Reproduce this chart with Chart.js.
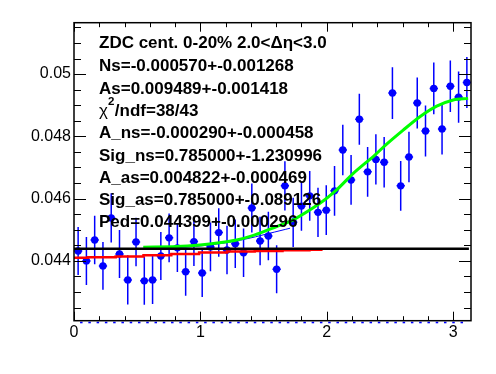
<!DOCTYPE html>
<html><head><meta charset="utf-8">
<script src="https://cdn.jsdelivr.net/npm/chart.js@4/dist/chart.umd.min.js"></script>
<style>html,body{margin:0;padding:0;background:#fff}#wrap{width:496px;height:374px;position:relative}</style>
</head><body><div id="wrap"><canvas id="c" width="496" height="374"></canvas></div>
<script>
// ---- data ----
const binCenters = [0.0327,0.0982,0.1636,0.2291,0.2945,0.3600,0.4254,0.4909,0.5563,0.6218,0.6872,0.7527,
  0.8181,0.8836,0.9490,1.0145,1.0799,1.1454,1.2108,1.2763,1.3417,1.4072,1.4726,1.5381,
  1.6035,1.6690,1.7344,1.7999,1.8653,1.9308,1.9962,2.0617,2.1271,2.1926,2.2580,2.3235,
  2.3889,2.4544,2.5198,2.5853,2.6507,2.7162,2.7816,2.8471,2.9125,2.9780,3.0434,3.1089];
const corrValues = [0.04432,0.04400,0.04467,0.04384,0.04538,0.04422,0.04339,0.04461,0.04336,0.04339,0.04416,0.04474,
  0.04442,0.04365,0.04462,0.04361,0.04445,0.04491,0.04435,0.04455,0.04426,0.04570,0.04464,0.04480,
  0.04373,0.04641,0.04524,0.04576,0.04609,0.04556,0.04563,0.04625,0.04756,0.04660,0.04855,0.04686,
  0.04726,0.04717,0.04939,0.04641,0.04734,0.04907,0.04817,0.04954,0.04824,0.04961,0.04926,0.04973];
const corrErrors = [0.00077,0.00077,0.00078,0.00077,0.00079,0.00077,0.00079,0.00078,0.00077,0.00077,0.00077,0.00078,
  0.00078,0.00077,0.00078,0.00077,0.00078,0.00078,0.00078,0.00078,0.00078,0.00079,0.00078,0.00078,
  0.00077,0.00079,0.00079,0.00079,0.00080,0.00079,0.00080,0.00080,0.00081,0.00080,0.00082,0.00080,
  0.00081,0.00081,0.00083,0.00080,0.00081,0.00082,0.00082,0.00083,0.00082,0.00083,0.00082,0.00082];
const binHalfWidth = 0.0327;

const pedX = [0, 3.125];
const pedY = [0.04439, 0.04439];

const nearX = [0, 0.22, 0.44, 0.66, 0.88, 1.10, 1.32, 1.54, 1.76, 1.967];
const nearY = [0.04410,0.04412,0.04414,0.04418,0.04422,0.04427,0.04430,0.04432,0.04434,0.04436];

const awayX = [0.548,0.8125,0.997,1.150,1.287,1.420,1.551,1.590,1.735,1.946,2.078,2.210,2.381,2.474,2.605,2.737,2.870,3.001,3.119];
const awayY = [0.04444,0.04446,0.04451,0.04458,0.04467,0.04482,0.04502,0.04508,0.04532,0.04585,0.04628,0.04681,0.04740,0.04775,0.04820,0.04863,0.04897,0.04917,0.04922];

const fitX = [0.84,1.00,1.23,1.40,1.55,1.71];
const fitY = [0.04443,0.04448,0.04460,0.04474,0.04489,0.04505];

const xMajorTicks = [0,1,2,3];
const xMinorTicks = [0.2,0.4,0.6,0.8,1.2,1.4,1.6,1.8,2.2,2.4,2.6,2.8,3.0];
const yMajorTicks = [0.044,0.046,0.048,0.050];
const yMinorTicks = [0.0425,0.043,0.0435,0.0445,0.045,0.0455,0.0465,0.047,0.0475,0.0485,0.049,0.0495,0.0505,0.051,0.0515];

const statLines = [
  "ZDC cent. 0-20% 2.0<\u0394\u03b7<3.0",
  "Ns=-0.000570+-0.001268",
  "As=0.009489+-0.001418",
  "CHI",
  "A_ns=-0.000290+-0.000458",
  "Sig_ns=0.785000+-1.230996",
  "A_as=0.004822+-0.000469",
  "Sig_as=0.785000+-0.089126",
  "Ped=0.044399+-0.000296"
];
const chiText = ["\u03c7", "2", "/ndf=38/43"];

// ---- drawing ----
const FONT = "'Liberation Sans', Arial, Helvetica, sans-serif";
const zip = (xs, ys) => xs.map((v, i) => ({x: v, y: ys[i]}));

const rootPlugin = {
  id: 'rootStyle',
  beforeDatasetsDraw(chart) {
    const {ctx, chartArea: a, scales: {x, y}} = chart;
    ctx.save();
    ctx.beginPath(); ctx.rect(a.left, a.top, a.right - a.left, a.bottom - a.top); ctx.clip();
    ctx.strokeStyle = '#0000ff'; ctx.lineWidth = 1.5;
    binCenters.forEach((c, i) => {
      const v = corrValues[i], e = corrErrors[i];
      const px = x.getPixelForValue(c), py = y.getPixelForValue(v);
      ctx.beginPath();
      ctx.moveTo(px, y.getPixelForValue(v - e)); ctx.lineTo(px, y.getPixelForValue(v + e));
      ctx.moveTo(x.getPixelForValue(c - binHalfWidth), py); ctx.lineTo(x.getPixelForValue(c + binHalfWidth), py);
      ctx.stroke();
    });
    ctx.restore();
  },
  afterDatasetsDraw(chart) {
    const {ctx, chartArea: a, scales: {x, y}} = chart;
    ctx.save();
    // blue dashes just below the frame
    ctx.fillStyle = '#0000ff';
    binCenters.forEach(c => {
      const px = x.getPixelForValue(c + binHalfWidth);
      if (px < a.right - 2) ctx.fillRect(px - 2.2, a.bottom + 1, 2.5, 1.6);
    });
    // frame
    ctx.strokeStyle = '#000'; ctx.lineWidth = 1.5;
    ctx.strokeRect(a.left, a.top, a.right - a.left, a.bottom - a.top);
    // ticks
    ctx.lineWidth = 1;
    ctx.beginPath();
    const xt = (vals, len) => vals.forEach(v => {
      const px = Math.round(x.getPixelForValue(v)) + 0.5;
      ctx.moveTo(px, a.bottom); ctx.lineTo(px, a.bottom - len);
      ctx.moveTo(px, a.top); ctx.lineTo(px, a.top + len);
    });
    const yt = (vals, len) => vals.forEach(v => {
      const py = Math.round(y.getPixelForValue(v)) + 0.5;
      ctx.moveTo(a.left, py); ctx.lineTo(a.left + len, py);
      ctx.moveTo(a.right, py); ctx.lineTo(a.right - len, py);
    });
    xt(xMajorTicks, 9); xt(xMinorTicks, 4.5);
    yt(yMajorTicks, 12); yt(yMinorTicks, 7);
    ctx.stroke();
    // stats text
    ctx.fillStyle = '#000'; ctx.textBaseline = 'alphabetic'; ctx.textAlign = 'left';
    const baselines = [47.7, 71.3, 93.5, 115.5, 138.3, 160.5, 182.8, 205, 227.3];
    const tx = 99;
    statLines.forEach((s, i) => {
      const by = baselines[i];
      if (s === 'CHI') {
        ctx.font = `17px ${FONT}`;
        ctx.fillText(chiText[0], tx, by);
        let w = ctx.measureText(chiText[0]).width;
        ctx.font = `bold 11.5px ${FONT}`;
        ctx.fillText(chiText[1], tx + w, by - 10.5);
        w += ctx.measureText(chiText[1]).width + 0.5;
        ctx.font = `bold 17px ${FONT}`;
        ctx.fillText(chiText[2], tx + w, by);
      } else {
        ctx.font = `bold 17px ${FONT}`;
        ctx.fillText(s, tx, by);
      }
    });
    ctx.restore();
  }
};

new Chart(document.getElementById('c'), {
  type: 'scatter',
  data: {
    datasets: [
      {label: 'ped', data: zip(pedX, pedY), showLine: true, pointRadius: 0, borderColor: '#000000', borderWidth: 2.5, order: 1},
      {label: 'near', data: zip(nearX, nearY), showLine: true, stepped: 'middle', pointRadius: 0, borderColor: '#ff0000', borderWidth: 2.5, order: 2},
      {label: 'away', data: zip(awayX, awayY), showLine: true, tension: 0.3, pointRadius: 0, borderColor: '#00ff00', borderWidth: 3, order: 3},
      {label: 'fit', data: zip(fitX, fitY), showLine: true, tension: 0.3, pointRadius: 0, borderColor: '#0000ff', borderWidth: 1, order: 4},
      {label: 'corr', data: zip(binCenters, corrValues), showLine: false, pointRadius: 3.7, pointBackgroundColor: '#0000ff', pointBorderWidth: 0, order: 5}
    ]
  },
  options: {
    responsive: false, animation: false, devicePixelRatio: 1,
    layout: {padding: {top: 22.7, right: 25, left: 0, bottom: 0}},
    plugins: {legend: {display: false}, tooltip: {enabled: false}},
    scales: {
      x: {
        type: 'linear', min: 0, max: 3.1416,
        afterBuildTicks: s => { s.ticks = xMajorTicks.map(v => ({value: v})); },
        afterFit: s => { s.height = 53.3; },
        ticks: {font: {family: FONT, size: 16}, color: '#000', padding: 2, maxRotation: 0, autoSkip: false, callback: v => String(v)},
        grid: {display: false, drawTicks: false}, border: {display: false}
      },
      y: {
        type: 'linear', min: 0.04208, max: 0.05165,
        afterBuildTicks: s => { s.ticks = yMajorTicks.map(v => ({value: v})); },
        afterFit: s => { s.width = 74; },
        ticks: {font: {family: FONT, size: 16}, color: '#000', padding: 3, autoSkip: false, callback: v => String(+v.toFixed(3))},
        grid: {display: false, drawTicks: false}, border: {display: false}
      }
    }
  },
  plugins: [rootPlugin]
});
</script></body></html>
